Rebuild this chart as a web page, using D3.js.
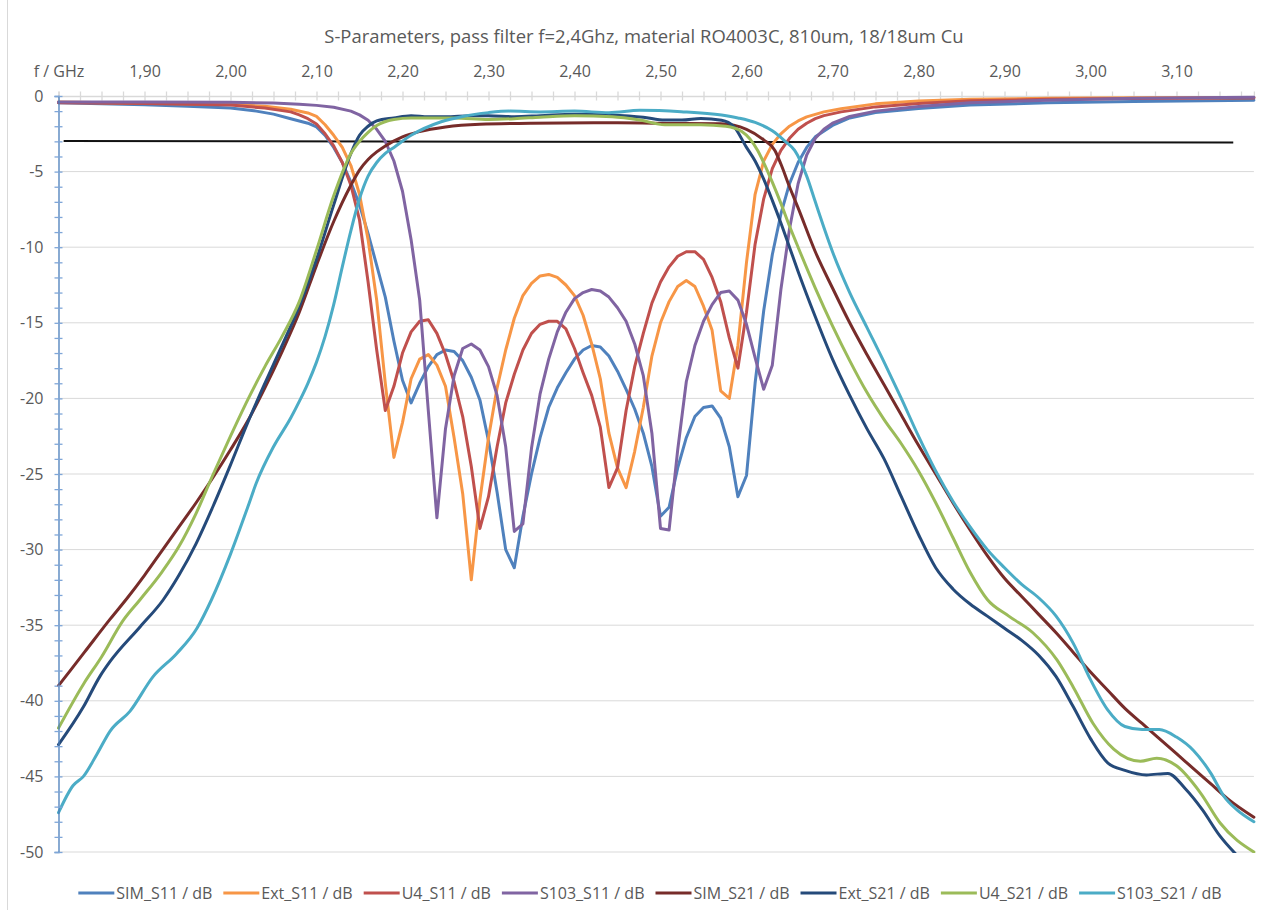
<!DOCTYPE html>
<html>
<head>
<meta charset="utf-8">
<script src="https://cdn.jsdelivr.net/npm/d3@7"></script>
<style>
  body { margin: 0; background: #fff; }
  text { font-family: "Open Sans", "Noto Sans", sans-serif; fill: #595959; }
</style>
</head>
<body>
<div id="chart"></div>
<script>
// tick labels (first category label is the axis name)
const freqTicks = [1.8, 1.9, 2.0, 2.1, 2.2, 2.3, 2.4, 2.5, 2.6, 2.7, 2.8, 2.9, 3.0, 3.1];
const freqLabels = ["f / GHz", "1,90", "2,00", "2,10", "2,20", "2,30", "2,40", "2,50", "2,60", "2,70", "2,80", "2,90", "3,00", "3,10"];
const dbTicks = [0, -5, -10, -15, -20, -25, -30, -35, -40, -45, -50];

const seriesNames = ["SIM_S11 / dB", "Ext_S11 / dB", "U4_S11 / dB", "S103_S11 / dB",
  "SIM_S21 / dB", "Ext_S21 / dB", "U4_S21 / dB", "S103_S21 / dB"];
const seriesColors = ["#4f81bd", "#f79646", "#c0504d", "#8064a2",
  "#772c2a", "#254a7a", "#9bbb59", "#4bacc6"];

// [f in GHz, dB]
const simS11 = [[1.80,-0.45],[1.90,-0.58],[1.95,-0.68],[2.00,-0.8],[2.03,-1.0],[2.05,-1.2],[2.07,-1.5],[2.09,-1.8],[2.10,-2.05],[2.11,-2.6],[2.12,-3.4],[2.13,-4.4],[2.14,-5.7],[2.15,-7.2],[2.16,-9.1],[2.17,-11.2],[2.18,-13.3],[2.19,-16.2],[2.20,-18.8],[2.21,-20.3],[2.22,-19.0],[2.23,-17.9],[2.24,-17.1],[2.25,-16.8],[2.26,-16.9],[2.27,-17.5],[2.28,-18.6],[2.29,-20.1],[2.30,-22.8],[2.31,-26.2],[2.32,-30.0],[2.33,-31.2],[2.34,-27.8],[2.35,-25.0],[2.36,-22.6],[2.37,-20.6],[2.38,-19.3],[2.39,-18.3],[2.40,-17.4],[2.41,-16.8],[2.42,-16.5],[2.43,-16.6],[2.44,-17.2],[2.45,-18.2],[2.46,-19.4],[2.47,-20.7],[2.48,-22.3],[2.49,-24.5],[2.50,-27.8],[2.51,-27.2],[2.52,-24.6],[2.53,-22.6],[2.54,-21.2],[2.55,-20.6],[2.56,-20.5],[2.57,-21.3],[2.58,-23.2],[2.59,-26.5],[2.60,-25.1],[2.61,-19.0],[2.62,-14.2],[2.63,-10.5],[2.64,-7.8],[2.65,-5.8],[2.66,-4.4],[2.67,-3.4],[2.68,-2.7],[2.70,-1.95],[2.72,-1.45],[2.75,-1.1],[2.80,-0.82],[2.86,-0.6],[2.95,-0.45],[3.05,-0.36],[3.19,-0.28]];
const extS11 = [[1.80,-0.4],[1.90,-0.48],[2.00,-0.55],[2.04,-0.68],[2.07,-0.88],[2.09,-1.12],[2.10,-1.35],[2.11,-1.9],[2.12,-2.6],[2.13,-3.4],[2.14,-4.6],[2.15,-6.5],[2.16,-9.5],[2.17,-13.5],[2.18,-19.0],[2.19,-23.9],[2.20,-21.6],[2.21,-18.7],[2.22,-17.4],[2.23,-17.1],[2.24,-17.8],[2.25,-19.2],[2.26,-22.6],[2.27,-26.3],[2.28,-32.0],[2.29,-26.7],[2.30,-22.6],[2.31,-19.3],[2.32,-16.8],[2.33,-14.7],[2.34,-13.2],[2.35,-12.4],[2.36,-11.9],[2.37,-11.8],[2.38,-12.0],[2.39,-12.5],[2.40,-13.2],[2.41,-14.5],[2.42,-16.4],[2.43,-18.7],[2.44,-22.3],[2.45,-24.6],[2.46,-25.9],[2.47,-23.5],[2.48,-20.6],[2.49,-17.2],[2.50,-15.0],[2.51,-13.6],[2.52,-12.6],[2.53,-12.2],[2.54,-12.6],[2.55,-13.9],[2.56,-15.5],[2.57,-19.5],[2.58,-20.0],[2.59,-16.5],[2.60,-11.0],[2.61,-6.5],[2.62,-4.3],[2.63,-3.2],[2.64,-2.5],[2.65,-2.0],[2.66,-1.65],[2.67,-1.38],[2.69,-1.05],[2.71,-0.85],[2.75,-0.52],[2.80,-0.33],[2.86,-0.22],[2.95,-0.15],[3.05,-0.12],[3.19,-0.1]];
const u4S11 = [[1.80,-0.45],[1.90,-0.5],[2.00,-0.6],[2.04,-0.8],[2.07,-1.05],[2.08,-1.25],[2.09,-1.5],[2.10,-1.85],[2.11,-2.5],[2.12,-3.3],[2.13,-4.4],[2.14,-5.9],[2.15,-8.2],[2.16,-12.3],[2.17,-16.8],[2.18,-20.8],[2.19,-19.2],[2.20,-17.0],[2.21,-15.6],[2.22,-14.9],[2.23,-14.8],[2.24,-15.7],[2.25,-17.1],[2.26,-18.9],[2.27,-21.2],[2.28,-24.5],[2.29,-28.6],[2.30,-26.5],[2.31,-23.2],[2.32,-20.3],[2.33,-18.4],[2.34,-16.8],[2.35,-15.7],[2.36,-15.1],[2.37,-14.9],[2.38,-14.9],[2.39,-15.4],[2.40,-16.7],[2.41,-18.3],[2.42,-19.8],[2.43,-21.9],[2.44,-25.9],[2.45,-24.6],[2.46,-20.8],[2.47,-17.9],[2.48,-15.7],[2.49,-13.7],[2.50,-12.3],[2.51,-11.3],[2.52,-10.6],[2.53,-10.3],[2.54,-10.3],[2.55,-10.8],[2.56,-12.0],[2.57,-13.6],[2.58,-16.0],[2.59,-18.0],[2.60,-14.3],[2.61,-9.8],[2.62,-6.8],[2.63,-4.8],[2.64,-3.6],[2.65,-2.8],[2.66,-2.2],[2.67,-1.8],[2.68,-1.5],[2.69,-1.3],[2.71,-1.05],[2.75,-0.72],[2.80,-0.5],[2.86,-0.32],[2.95,-0.22],[3.05,-0.17],[3.19,-0.14]];
const s103S11 = [[1.80,-0.4],[1.90,-0.4],[2.00,-0.42],[2.05,-0.47],[2.08,-0.55],[2.10,-0.62],[2.12,-0.75],[2.14,-1.0],[2.15,-1.25],[2.16,-1.6],[2.17,-2.2],[2.18,-3.0],[2.19,-4.3],[2.20,-6.3],[2.21,-9.5],[2.22,-13.5],[2.23,-20.8],[2.24,-27.9],[2.25,-22.0],[2.26,-18.5],[2.27,-16.7],[2.28,-16.4],[2.29,-16.8],[2.30,-17.9],[2.31,-19.8],[2.32,-23.2],[2.33,-28.8],[2.34,-28.3],[2.35,-23.3],[2.36,-19.7],[2.37,-17.4],[2.38,-15.6],[2.39,-14.3],[2.40,-13.4],[2.41,-13.0],[2.42,-12.8],[2.43,-12.9],[2.44,-13.3],[2.45,-14.0],[2.46,-14.9],[2.47,-16.4],[2.48,-18.5],[2.49,-22.3],[2.50,-28.6],[2.51,-28.7],[2.52,-23.4],[2.53,-18.9],[2.54,-16.5],[2.55,-14.9],[2.56,-13.8],[2.57,-13.0],[2.58,-12.9],[2.59,-13.5],[2.60,-15.1],[2.61,-17.3],[2.62,-19.4],[2.63,-17.8],[2.64,-12.8],[2.65,-8.8],[2.66,-5.8],[2.67,-3.9],[2.68,-2.8],[2.69,-2.2],[2.70,-1.8],[2.72,-1.35],[2.75,-1.0],[2.80,-0.7],[2.86,-0.45],[2.95,-0.28],[3.05,-0.15],[3.19,-0.08]];
const simS21 = [[1.80,-39.0],[1.83,-36.8],[1.86,-34.6],[1.88,-33.2],[1.90,-31.7],[1.92,-30.1],[1.94,-28.5],[1.96,-26.9],[1.98,-25.2],[2.00,-23.4],[2.02,-21.5],[2.04,-19.3],[2.06,-16.9],[2.08,-14.3],[2.10,-11.2],[2.12,-8.3],[2.14,-5.9],[2.15,-4.9],[2.16,-4.2],[2.17,-3.7],[2.18,-3.3],[2.20,-2.7],[2.22,-2.35],[2.25,-2.05],[2.29,-1.87],[2.35,-1.8],[2.45,-1.77],[2.52,-1.82],[2.57,-1.84],[2.60,-2.2],[2.62,-2.9],[2.633,-3.6],[2.64,-4.5],[2.65,-6.0],[2.66,-7.4],[2.68,-10.3],[2.70,-12.7],[2.72,-15.0],[2.74,-17.1],[2.76,-19.1],[2.78,-21.1],[2.80,-23.1],[2.82,-25.0],[2.84,-26.9],[2.86,-28.7],[2.88,-30.4],[2.90,-31.9],[2.92,-33.1],[2.94,-34.3],[2.96,-35.5],[2.98,-36.8],[3.00,-38.1],[3.02,-39.3],[3.04,-40.5],[3.06,-41.5],[3.08,-42.5],[3.10,-43.5],[3.12,-44.5],[3.14,-45.5],[3.16,-46.5],[3.19,-47.7]];
const extS21 = [[1.80,-42.9],[1.829,-40.4],[1.848,-38.4],[1.86,-37.4],[1.895,-35.1],[1.922,-33.3],[1.94,-31.7],[1.96,-29.6],[1.98,-27.1],[2.00,-24.4],[2.02,-21.6],[2.04,-19.0],[2.06,-16.5],[2.08,-13.9],[2.10,-10.8],[2.12,-7.2],[2.14,-3.8],[2.15,-2.6],[2.16,-2.0],[2.17,-1.65],[2.19,-1.45],[2.21,-1.3],[2.23,-1.37],[2.25,-1.37],[2.28,-1.3],[2.30,-1.3],[2.33,-1.37],[2.36,-1.3],[2.40,-1.2],[2.44,-1.25],[2.48,-1.4],[2.505,-1.59],[2.525,-1.59],[2.547,-1.48],[2.571,-1.6],[2.585,-2.0],[2.60,-3.4],[2.61,-4.3],[2.62,-5.5],[2.63,-6.9],[2.64,-8.4],[2.65,-10.0],[2.66,-11.6],[2.68,-14.6],[2.70,-17.4],[2.72,-19.8],[2.74,-22.0],[2.76,-24.0],[2.78,-26.5],[2.80,-29.0],[2.82,-31.2],[2.84,-32.6],[2.86,-33.6],[2.88,-34.4],[2.90,-35.2],[2.92,-36.0],[2.94,-37.0],[2.96,-38.4],[2.98,-40.4],[3.00,-42.5],[3.02,-44.1],[3.04,-44.6],[3.065,-44.9],[3.09,-44.8],[3.11,-45.8],[3.13,-47.2],[3.15,-48.9],[3.17,-50.2]];
const u4S21 = [[1.80,-41.8],[1.829,-38.9],[1.85,-37.1],[1.875,-34.7],[1.895,-33.3],[1.92,-31.5],[1.94,-29.8],[1.96,-27.6],[1.98,-25.0],[2.00,-22.5],[2.02,-20.1],[2.04,-17.9],[2.06,-15.9],[2.08,-13.6],[2.10,-10.2],[2.12,-6.6],[2.14,-3.8],[2.15,-3.0],[2.16,-2.4],[2.17,-1.95],[2.19,-1.55],[2.21,-1.45],[2.235,-1.46],[2.26,-1.45],[2.30,-1.55],[2.33,-1.5],[2.36,-1.4],[2.40,-1.3],[2.444,-1.37],[2.476,-1.59],[2.505,-1.9],[2.547,-1.9],[2.576,-2.0],[2.595,-2.36],[2.613,-3.6],[2.62,-4.4],[2.63,-5.7],[2.64,-7.1],[2.65,-8.6],[2.66,-10.0],[2.68,-12.7],[2.70,-15.2],[2.72,-17.5],[2.74,-19.6],[2.76,-21.4],[2.78,-23.0],[2.80,-24.8],[2.82,-26.9],[2.84,-29.2],[2.86,-31.5],[2.88,-33.3],[2.905,-34.4],[2.933,-35.5],[2.961,-37.3],[2.98,-39.1],[3.003,-41.5],[3.027,-43.2],[3.058,-44.0],[3.077,-43.8],[3.10,-44.3],[3.128,-46.1],[3.151,-48.1],[3.19,-50.0]];
const s103S21 = [[1.80,-47.4],[1.817,-45.6],[1.829,-45.0],[1.845,-43.5],[1.86,-42.0],[1.883,-40.7],[1.91,-38.4],[1.937,-36.9],[1.961,-35.2],[1.978,-33.3],[2.00,-30.3],[2.02,-27.2],[2.03,-25.6],[2.05,-23.2],[2.07,-21.3],[2.08,-20.2],[2.09,-19.0],[2.10,-17.6],[2.11,-15.9],[2.12,-13.8],[2.13,-11.3],[2.14,-8.9],[2.15,-6.8],[2.16,-5.3],[2.17,-4.4],[2.18,-3.8],[2.19,-3.4],[2.21,-2.6],[2.245,-1.7],[2.27,-1.35],[2.30,-1.1],[2.325,-1.0],[2.36,-1.05],[2.40,-1.0],[2.44,-1.1],[2.476,-0.95],[2.524,-1.04],[2.571,-1.26],[2.59,-1.45],[2.61,-1.75],[2.63,-2.3],[2.645,-3.0],[2.656,-3.6],[2.67,-5.3],[2.68,-7.0],[2.69,-8.7],[2.70,-10.3],[2.72,-13.0],[2.74,-15.3],[2.76,-17.6],[2.78,-20.0],[2.80,-22.5],[2.82,-24.8],[2.84,-26.8],[2.86,-28.5],[2.88,-30.0],[2.90,-31.2],[2.92,-32.3],[2.94,-33.2],[2.96,-34.4],[2.98,-36.2],[3.00,-38.6],[3.02,-40.6],[3.04,-41.7],[3.06,-41.9],[3.08,-41.9],[3.10,-42.4],[3.12,-43.3],[3.14,-44.8],[3.155,-46.3],[3.17,-47.2],[3.19,-48.0]];

// -3 dB reference line (not in legend)
const refLine = [[1.806, -2.98], [3.166, -3.08]];

const allSeries = [simS11, extS11, u4S11, s103S11, simS21, extS21, u4S21, s103S21];

const width = 1287, height = 910;
const svg = d3.select("#chart").append("svg")
  .attr("width", width).attr("height", height);

svg.append("rect").attr("width", width).attr("height", height).attr("fill", "#fff");
// chart frame (left edge visible)
svg.append("line").attr("x1", 7.5).attr("x2", 7.5).attr("y1", 0).attr("y2", height)
  .attr("stroke", "#d9d9d9");

const x = d3.scaleLinear().domain([1.8, 3.19]).range([58.5, 1253.9]);
const y = d3.scaleLinear().domain([-50, 0]).range([852, 96]);

// title
const title = svg.append("text")
  .attr("x", 644).attr("y", 43)
  .attr("text-anchor", "middle")
  .style("font-size", "17px")
  .text("S-Parameters, pass filter f=2,4Ghz, material RO4003C, 810um, 18/18um Cu");
const tw = title.node().getComputedTextLength();
title.style("font-size", (17 * 640 / tw) + "px");

// gridlines
svg.append("g").selectAll("line")
  .data(dbTicks.filter(d => d !== 0))
  .join("line")
  .attr("x1", x.range()[0]).attr("x2", x.range()[1])
  .attr("y1", d => y(d)).attr("y2", d => y(d))
  .attr("stroke", "#d9d9d9").attr("stroke-width", 1);

// top (category) axis at 0 dB
const minorF = d3.range(0, 56).map(i => 1.8 + i * 0.025);
const topAxis = svg.append("g").attr("transform", `translate(0,${y(0)})`)
  .call(d3.axisTop(x).tickValues(minorF).tickSize(4.5).tickFormat(""));
topAxis.select(".domain").attr("stroke", "#d9d9d9").attr("stroke-width", 1.3);
topAxis.selectAll(".tick line").attr("y1", -4.5).attr("y2", 4.5).attr("stroke", "#d9d9d9").attr("stroke-width", 1.3);

const topLabels = svg.append("g").attr("transform", `translate(0,${y(0)})`)
  .call(d3.axisTop(x).tickValues(freqTicks).tickSize(0).tickPadding(19)
    .tickFormat((d, i) => freqLabels[i]));
topLabels.select(".domain").remove();
topLabels.selectAll("text").style("font-size", "16px").attr("fill", "#595959");

// plot lines
svg.append("clipPath").attr("id", "plotClip")
  .append("rect").attr("x", 40).attr("y", 80).attr("width", 1240).attr("height", 773);

const lineLin = d3.line().x(d => x(d[0])).y(d => y(d[1]));
const lineSmooth = d3.line().x(d => x(d[0])).y(d => y(d[1])).curve(d3.curveMonotoneX);

const plot = svg.append("g").attr("clip-path", "url(#plotClip)");

plot.append("path")
  .attr("d", lineLin(refLine))
  .attr("fill", "none").attr("stroke", "#111").attr("stroke-width", 2);

plot.selectAll("path.series")
  .data(allSeries)
  .join("path")
  .attr("class", "series")
  .attr("d", (d, i) => (i < 4 ? lineLin : lineSmooth)(d))
  .attr("fill", "none")
  .attr("stroke", (d, i) => seriesColors[i])
  .attr("stroke-width", 3)
  .attr("stroke-linejoin", "round")
  .attr("stroke-linecap", "round");

// left axis
const leftAxis = svg.append("g").attr("transform", `translate(${x.range()[0]},0)`)
  .call(d3.axisLeft(y).tickValues(d3.range(0, 51).map(i => -i)).tickSize(4).tickFormat(""));
leftAxis.select(".domain").attr("stroke", "#4a7ebb").attr("stroke-width", 1.3);
leftAxis.selectAll(".tick line").attr("x1", -4).attr("x2", 4).attr("stroke", "#7fa6d8").attr("stroke-width", 1.3);

const leftLabels = svg.append("g").attr("transform", `translate(${x.range()[0]},0)`)
  .call(d3.axisLeft(y).tickValues(dbTicks).tickSize(0).tickPadding(15).tickFormat(d => String(d)));
leftLabels.select(".domain").remove();
leftLabels.selectAll("text").style("font-size", "16px").attr("fill", "#595959");

// legend
const legend = svg.append("g");
let lx = 0;
seriesNames.forEach((name, i) => {
  const g = legend.append("g").attr("transform", `translate(${lx},0)`);
  g.append("line").attr("x1", 0).attr("x2", 36).attr("y1", 0).attr("y2", 0)
    .attr("stroke", seriesColors[i]).attr("stroke-width", 3);
  const t = g.append("text").attr("x", 38).attr("dy", "0.35em")
    .style("font-size", "16px").text(name);
  lx += 38 + t.node().getComputedTextLength() + 11;
});
lx -= 11;
legend.attr("transform", `translate(${650 - lx / 2},893)`);
</script>
</body>
</html>
